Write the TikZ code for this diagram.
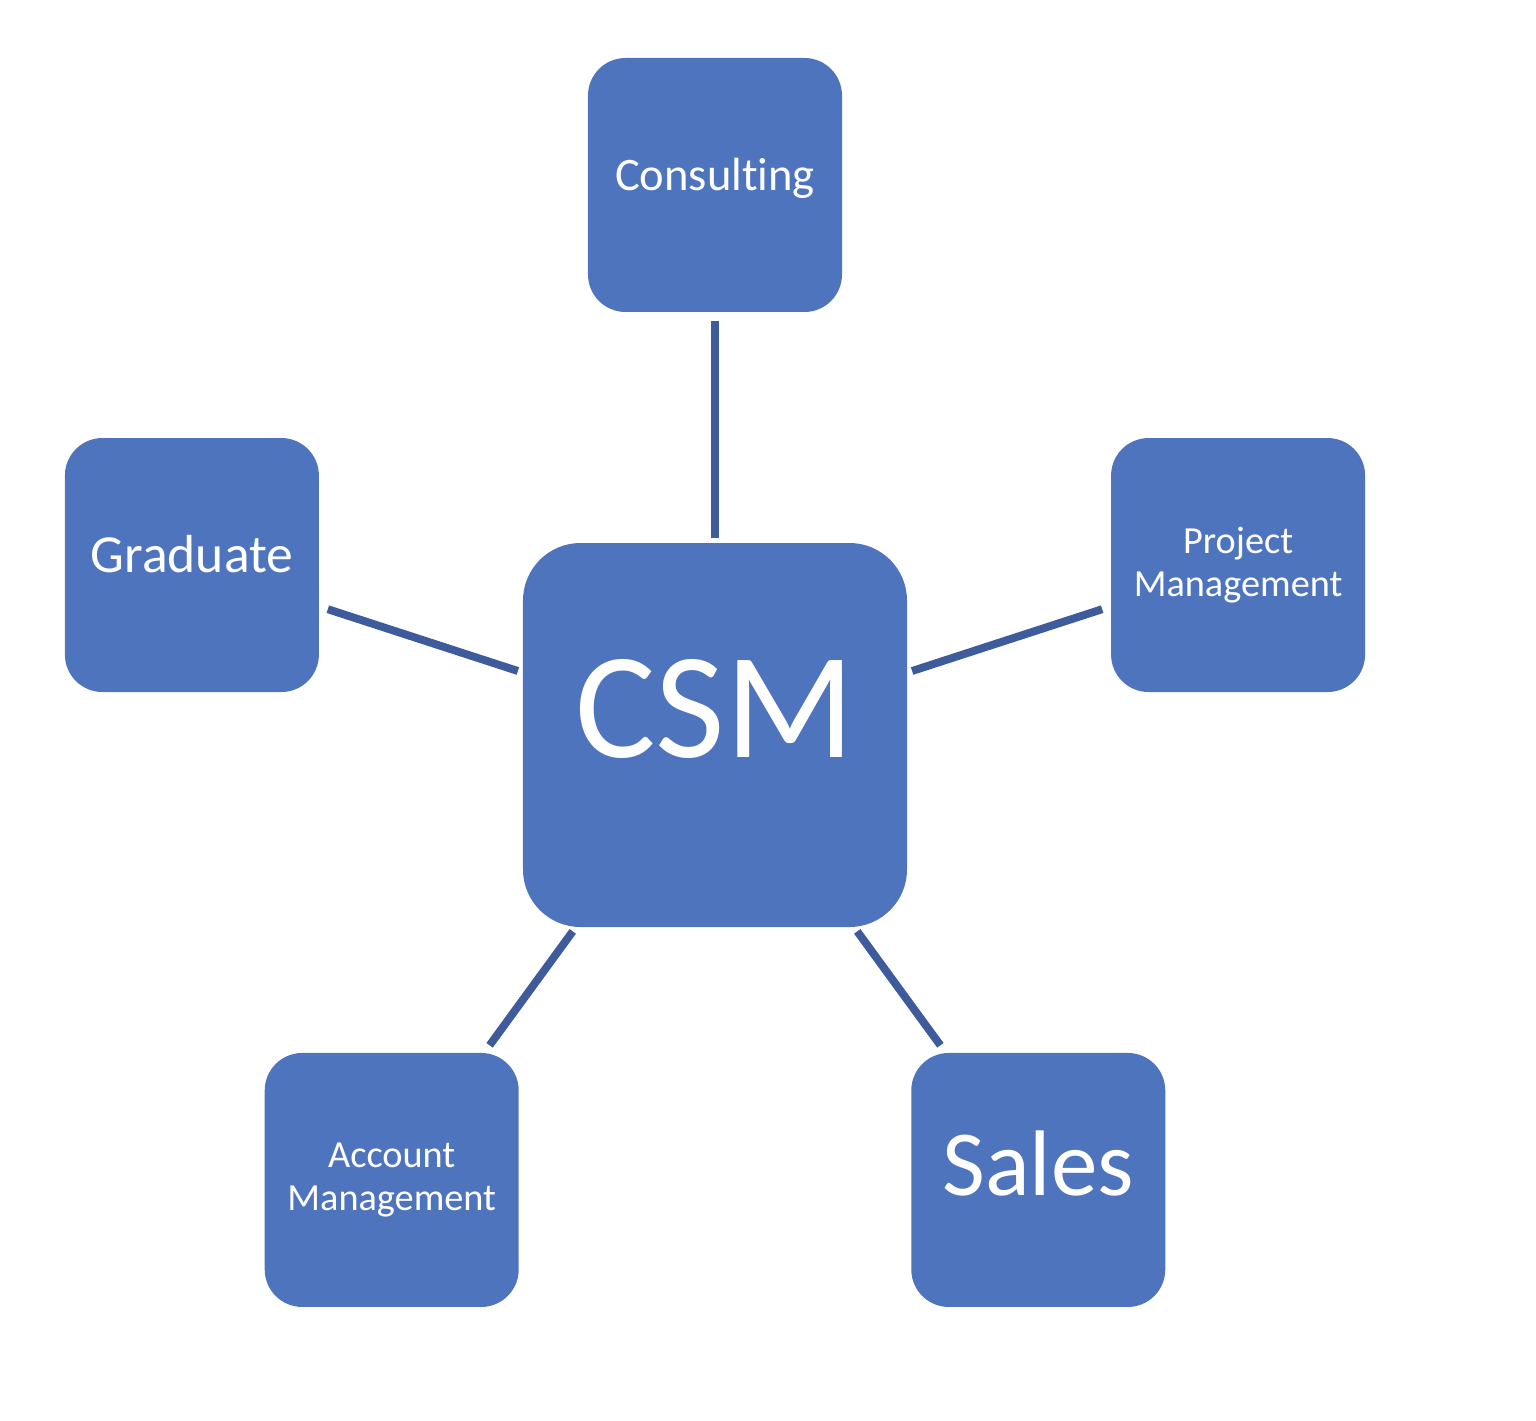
\documentclass[tikz,border=0pt]{standalone}
\usepackage{fontspec}
\setmainfont{Carlito}[Ligatures=NoCommon]
\usepackage{xcolor}
\usepackage{tikz}
\definecolor{boxblue}{RGB}{79,116,190}
\definecolor{lineblue}{RGB}{62,91,155}
\tikzstyle{leaf} = [rectangle, fill=boxblue, text=white, align=center, inner sep=0pt, minimum width=5.08cm, minimum height=5.08cm, rounded corners=0.75cm]
\tikzstyle{link} = [draw=lineblue, line width=4.5pt, shorten <=0.18cm, shorten >=0.1cm]
\tikzset{
  hub/.style = {
    leaf,
    minimum width  = 7.68cm,
    minimum height = 7.68cm,
    rounded corners = 1.15cm,
    font = \fontsize{86}{90}\selectfont,
    text height = 0.88cm,
    text depth  = 0pt
  },
  small/.style = {font = \fontsize{21.8}{24.4}\selectfont}
}

\begin{document}
\begin{tikzpicture}
            \useasboundingbox (-14.3,-13.7) rectangle (16.42,14.7);

            % Central role
            \node (csm) [hub] at (0,0) {CSM};

            % Surrounding roles
            \node (cons) [leaf, font=\fontsize{26.5}{30}\selectfont, text height=0.22cm, text depth=0pt] at (90:11) {Consulting};
            \node (grad) [leaf, font=\fontsize{30.5}{34}\selectfont, text height=0.3cm, text depth=0pt] at (162:11) {Graduate};
            \node (proj) [leaf, small] at (18:11) {Project\\Management};
            \node (acct) [leaf, small] at (234:11) {Account\\Management};
            \node (sales) [leaf, font=\fontsize{53}{60}\selectfont, text height=0.62cm, text depth=0pt] at (306:11) {Sales};

            % Connect roles to CSM
            \foreach \n in {cons,grad,proj,acct,sales} \draw [link] (\n) -- (csm);
\end{tikzpicture}
\end{document}
